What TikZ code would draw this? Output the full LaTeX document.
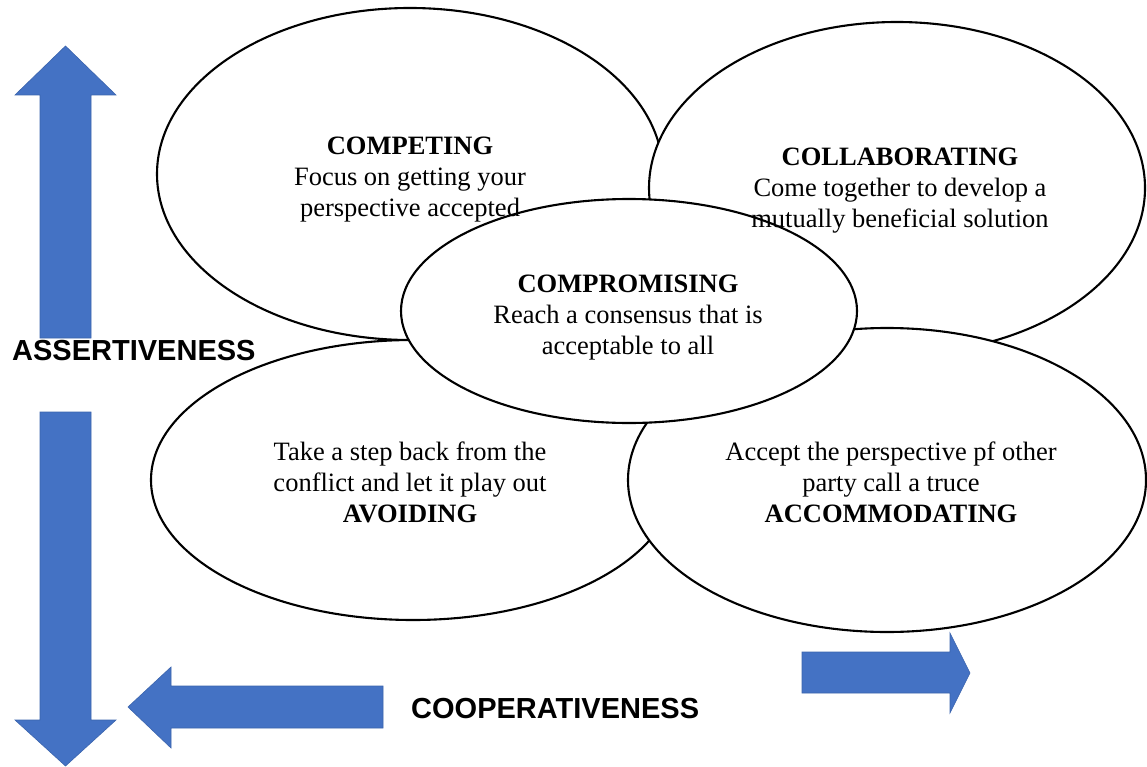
\documentclass[tikz,border=0pt]{standalone}
\usepackage{fontspec}
\setmainfont{Liberation Serif}
\newfontfamily\arialfont{Liberation Sans}
\usetikzlibrary{shapes.geometric}
\definecolor{arrowblue}{HTML}{4472C4}
\definecolor{arrowedge}{HTML}{3B64AD}
\begin{document}
\begin{tikzpicture}[x=1pt,y=-1pt,
  bubble/.style={ellipse, draw=black, line width=2.1pt, fill=white, inner sep=0pt, outer sep=0pt},
  bubbletext/.style={align=center, font=\fontsize{26.5}{31}\selectfont, inner sep=0pt, anchor=center},
  bigarrow/.style={fill=arrowblue, draw=arrowedge, line width=0.6pt, line join=miter},
  axislabel/.style={font=\arialfont\bfseries\fontsize{29}{34}\selectfont, inner sep=0pt, anchor=base west}]
\useasboundingbox (0,0) rectangle (1147,767);
\fill[white] (0,0) rectangle (1147,767);

% block arrows
\draw[bigarrow] (40,338) -- (40,95) -- (15,95) -- (65.5,46) -- (116,95) -- (91,95) -- (91,338) -- cycle;
\draw[bigarrow] (40,412) -- (40,720) -- (15,720) -- (65.5,766) -- (116,720) -- (91,720) -- (91,412) -- cycle;
\draw[bigarrow] (383,686) -- (171,686) -- (171,667) -- (128,707) -- (171,748) -- (171,728) -- (383,728) -- cycle;
\draw[bigarrow] (802,652) -- (950,652) -- (950,633) -- (970,673) -- (950,713) -- (950,693) -- (802,693) -- cycle;

% ellipses
\node[bubble, minimum width=506pt, minimum height=332pt] (competing) at (410,174) {};
\node[bubble, minimum width=496pt, minimum height=332pt] (collaborating) at (897,188) {};
\node[bubble, minimum width=524pt, minimum height=280pt] (avoiding) at (413,480) {};
\node[bubble, minimum width=518pt, minimum height=304pt] (accommodating) at (887,480) {};
\node[bubble, minimum width=456pt, minimum height=224pt] (compromising) at (629,311) {};

% texts
\node[bubbletext] (tcompeting) at (410,180) {\textbf{COMPETING}\\Focus on getting your\\perspective accepted};
\node[bubbletext] (tcollaborating) at (900,191) {\textbf{COLLABORATING}\\Come together to develop a\\mutually beneficial solution};
\node[bubbletext] (tcompromising) at (628,318) {\textbf{COMPROMISING}\\Reach a consensus that is\\acceptable to all};
\node[bubbletext] (tavoiding) at (410,482) {Take a step back from the\\conflict and let it play out\\\textbf{AVOIDING}};
\node[bubbletext] (taccommodating) at (891,482) {Accept the perspective pf other\\party call a truce\\\textbf{ACCOMMODATING}};

\node[axislabel] (assert) at (12,360) {ASSERTIVENESS};
\node[axislabel] (coop) at (411,718) {COOPERATIVENESS};
\end{tikzpicture}
\end{document}
